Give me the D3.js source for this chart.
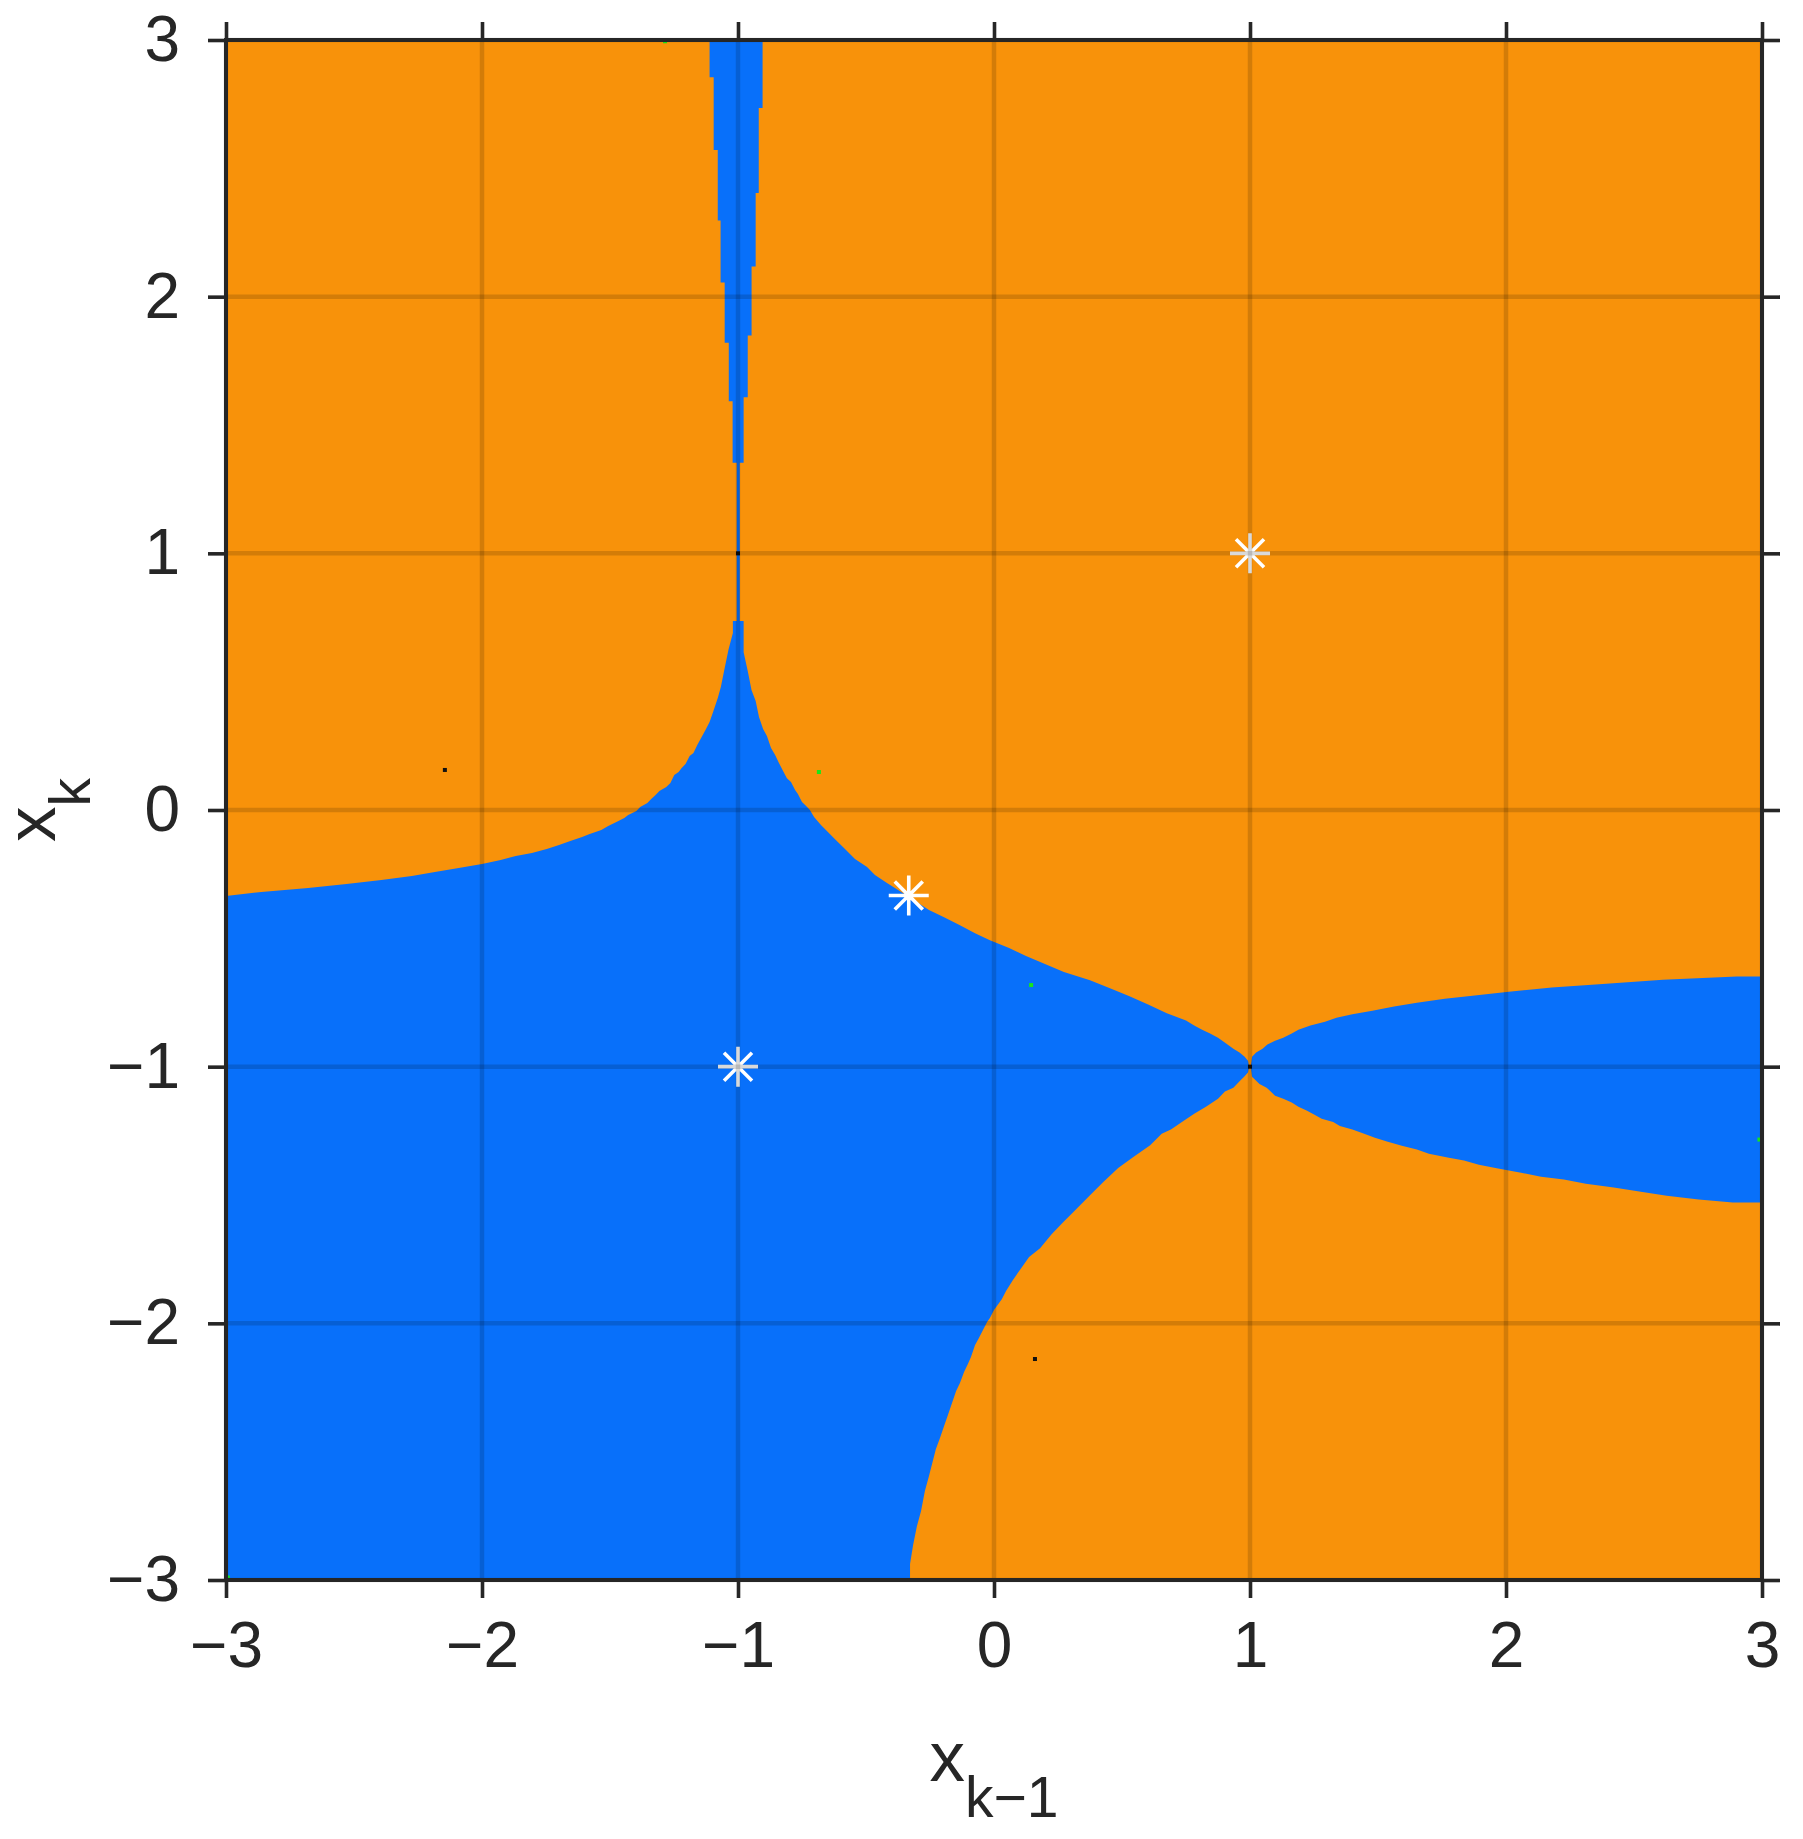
<!DOCTYPE html>
<html>
<head>
<meta charset="utf-8">
<script src="https://cdn.jsdelivr.net/npm/d3@7"></script>
<style>
  body { margin: 0; background: #fff; }
  text { font-family: "Liberation Sans", Arial, Helvetica, sans-serif; fill: #262626; }
</style>
</head>
<body>
<div id="chart"></div>
<script>
// tick values on both axes
const xTicks = [-3, -2, -1, 0, 1, 2, 3];
const yTicks = [-3, -2, -1, 0, 1, 2, 3];

// basin boundaries, [x_{k-1}, x_k]
// upper-left edge of the blue basin, from the left border up to the cusp
const cuspLeft = [[-3.0,-0.335],[-2.862,-0.319],[-2.679,-0.304],[-2.529,-0.288],[-2.393,-0.273],[-2.274,-0.257],
  [-2.184,-0.242],[-2.091,-0.226],[-2.0,-0.21],[-1.927,-0.195],[-1.868,-0.179],[-1.805,-0.168],[-1.747,-0.152],
  [-1.699,-0.136],[-1.655,-0.121],[-1.609,-0.105],[-1.582,-0.094],[-1.534,-0.078],[-1.507,-0.062],[-1.475,-0.047],
  [-1.444,-0.031],[-1.429,-0.019],[-1.397,-0.004],[-1.382,0.012],[-1.354,0.027],[-1.339,0.043],[-1.322,0.058],
  [-1.307,0.074],[-1.28,0.09],[-1.264,0.105],[-1.249,0.136],[-1.232,0.148],[-1.22,0.164],[-1.205,0.179],
  [-1.189,0.21],[-1.174,0.222],[-1.159,0.253],[-1.142,0.284],[-1.127,0.312],[-1.111,0.343],[-1.096,0.386],
  [-1.079,0.436],[-1.067,0.479],[-1.052,0.553],[-1.037,0.625],[-1.02,0.69],[-1.02,0.736]];

// thin spike along x_{k-1} = -1 (left side going up, right side coming down)
const spikeLeft = [[-1.005,0.736],[-1.005,1.353],[-1.021,1.353],[-1.021,1.593],[-1.036,1.593],[-1.036,1.82],
  [-1.052,1.82],[-1.052,2.055],[-1.068,2.055],[-1.068,2.297],[-1.079,2.297],[-1.079,2.571],[-1.095,2.571],
  [-1.095,2.855],[-1.111,2.855],[-1.111,3.0]];
const spikeRight = [[-0.904,3.0],[-0.904,2.735],[-0.919,2.735],[-0.919,2.404],[-0.931,2.404],[-0.931,2.118],
  [-0.947,2.118],[-0.947,1.849],[-0.962,1.849],[-0.962,1.608],[-0.978,1.608],[-0.978,1.353],[-0.993,1.353],
  [-0.993,0.736]];

// right edge of the cusp, down past the middle root to (1,-1)
const cuspRight = [[-0.978,0.736],[-0.978,0.615],[-0.962,0.542],[-0.947,0.467],[-0.931,0.425],[-0.918,0.362],
  [-0.902,0.316],[-0.887,0.288],[-0.871,0.242],[-0.855,0.214],[-0.84,0.183],[-0.824,0.152],[-0.809,0.124],
  [-0.793,0.109],[-0.777,0.078],[-0.766,0.062],[-0.75,0.031],[-0.734,0.016],[-0.719,0.0],[-0.703,-0.027],
  [-0.676,-0.058],[-0.645,-0.09],[-0.618,-0.117],[-0.586,-0.148],[-0.543,-0.191],[-0.496,-0.222],[-0.465,-0.253],
  [-0.418,-0.284],[-0.333,-0.338],[-0.254,-0.39],[-0.195,-0.418],[-0.133,-0.449],[-0.074,-0.48],[-0.016,-0.507],
  [0.059,-0.538],[0.125,-0.569],[0.199,-0.6],[0.273,-0.631],[0.375,-0.663],[0.453,-0.694],[0.527,-0.725],
  [0.602,-0.758],[0.675,-0.792],[0.75,-0.82],[0.782,-0.84],[0.813,-0.856],[0.844,-0.871],[0.875,-0.887],
  [0.9,-0.905],[0.935,-0.93],[0.959,-0.945],[0.979,-0.961],[0.992,-0.977],[0.997,-1.0]];

// lower edge, from (1,-1) down to the bottom border
const lowerEdge = [[0.992,-1.023],[0.977,-1.039],[0.964,-1.052],[0.935,-1.082],[0.902,-1.097],[0.875,-1.125],
  [0.828,-1.156],[0.782,-1.183],[0.737,-1.214],[0.691,-1.245],[0.655,-1.261],[0.61,-1.306],[0.543,-1.353],
  [0.485,-1.395],[0.426,-1.45],[0.375,-1.501],[0.316,-1.56],[0.27,-1.606],[0.225,-1.653],[0.18,-1.707],
  [0.137,-1.742],[0.106,-1.785],[0.074,-1.831],[0.047,-1.874],[0.031,-1.905],[0.0,-1.948],[-0.016,-1.979],
  [-0.027,-1.995],[-0.043,-2.026],[-0.059,-2.057],[-0.074,-2.084],[-0.09,-2.131],[-0.102,-2.158],[-0.117,-2.19],
  [-0.133,-2.232],[-0.148,-2.264],[-0.164,-2.31],[-0.18,-2.357],[-0.195,-2.4],[-0.211,-2.447],[-0.227,-2.49],
  [-0.242,-2.548],[-0.254,-2.595],[-0.27,-2.653],[-0.285,-2.731],[-0.301,-2.79],[-0.316,-2.864],[-0.328,-2.938],
  [-0.328,-3.0],[-3.0,-3.0]];

// wedge to the right of (1,-1)
const wedgeUpper = [[1.003,-1.0],[1.008,-0.961],[1.024,-0.945],[1.049,-0.93],[1.068,-0.914],[1.098,-0.899],
  [1.13,-0.887],[1.163,-0.871],[1.189,-0.856],[1.236,-0.84],[1.293,-0.825],[1.338,-0.809],[1.4,-0.796],
  [1.478,-0.782],[1.563,-0.766],[1.652,-0.751],[1.761,-0.735],[1.878,-0.723],[2.011,-0.708],[2.179,-0.692],
  [2.392,-0.677],[2.613,-0.661],[2.902,-0.649],[3.0,-0.649]];
const wedgeLower = [[3.0,-1.529],[2.886,-1.529],[2.753,-1.518],[2.628,-1.503],[2.527,-1.487],[2.421,-1.471],
  [2.312,-1.456],[2.226,-1.44],[2.137,-1.429],[2.059,-1.413],[1.969,-1.397],[1.894,-1.382],[1.836,-1.366],
  [1.777,-1.355],[1.699,-1.339],[1.652,-1.323],[1.593,-1.308],[1.535,-1.292],[1.488,-1.277],[1.446,-1.261],
  [1.4,-1.245],[1.351,-1.231],[1.325,-1.216],[1.28,-1.203],[1.252,-1.187],[1.221,-1.171],[1.189,-1.156],
  [1.163,-1.14],[1.13,-1.125],[1.098,-1.113],[1.081,-1.097],[1.065,-1.082],[1.037,-1.068],[1.024,-1.055],
  [1.008,-1.039]];

// roots (stars) and the odd stray cells
const roots = [[1, 1], [-0.333, -0.333], [-1, -1]];
const strayX = [-2.145, 0.16, -1.0, 1.0, -0.684, 0.145, 2.99, -1.285, -2.993];
const strayY = [0.156, -2.139, 1.0, -1.0, 0.148, -0.682, -1.284, 2.995, -2.99];
const strayC = ["black", "black", "black", "black", "green", "green", "green", "green", "green"];

const orange = "#f8920a";
const blue = "#0870fa";
const axisColor = "#262626";

const width = 1803, height = 1839;
const x = d3.scaleLinear().domain([-3, 3]).range([226, 1762]);
const y = d3.scaleLinear().domain([-3, 3]).range([1580, 40]);

const svg = d3.select("#chart").append("svg")
    .attr("width", width)
    .attr("height", height);

const line = d3.line().x(d => x(d[0])).y(d => y(d[1]));

// orange basin = whole square, blue drawn on top
svg.append("rect")
    .attr("x", x(-3)).attr("y", y(3))
    .attr("width", x(3) - x(-3)).attr("height", y(-3) - y(3))
    .attr("fill", orange);

const mainBasin = cuspLeft.concat(spikeLeft, spikeRight, cuspRight, lowerEdge);
svg.append("path")
    .attr("d", line(mainBasin) + "Z")
    .attr("fill", blue);

svg.append("path")
    .attr("d", line(wedgeUpper.concat(wedgeLower)) + "Z")
    .attr("fill", blue);

// stray cells
svg.append("g").selectAll("rect")
    .data(d3.range(strayX.length))
    .join("rect")
      .attr("x", i => x(strayX[i]) - 2)
      .attr("y", i => y(strayY[i]) - 2)
      .attr("width", 4)
      .attr("height", 4)
      .attr("fill", i => strayC[i] == "green" ? "#19e619" : "#111");

// root markers (asterisk)
svg.append("g").selectAll("path")
    .data(roots)
    .join("path")
      .attr("transform", d => `translate(${x(d[0])},${y(d[1])})`)
      .attr("d", "M-20,0H20M0,-20V20M-14,-14L14,14M-14,14L14,-14")
      .attr("stroke", "#fff")
      .attr("stroke-width", 3.6)
      .attr("fill", "none");

// grid on top
const grid = svg.append("g").attr("stroke", "#000").attr("stroke-opacity", 0.15).attr("stroke-width", 4.5);
grid.selectAll(".gx").data(xTicks).join("line")
    .attr("x1", d => x(d)).attr("x2", d => x(d))
    .attr("y1", y(3)).attr("y2", y(-3));
grid.selectAll(".gy").data(yTicks).join("line")
    .attr("y1", d => y(d)).attr("y2", d => y(d))
    .attr("x1", x(-3)).attr("x2", x(3));

// axes
function fmt(d) { return d < 0 ? "\u2212" + Math.abs(d) : String(d); }

const gLeft = svg.append("g").attr("transform", `translate(${x(-3)},0)`)
    .call(d3.axisLeft(y).tickValues(yTicks).tickFormat(fmt).tickSize(18).tickSizeOuter(0).tickPadding(28));
const gBottom = svg.append("g").attr("transform", `translate(0,${y(-3)})`)
    .call(d3.axisBottom(x).tickValues(xTicks).tickFormat(fmt).tickSize(18).tickSizeOuter(0).tickPadding(24));
const gTop = svg.append("g").attr("transform", `translate(0,${y(3)})`)
    .call(d3.axisTop(x).tickValues(xTicks).tickFormat("").tickSize(18).tickSizeOuter(0));
const gRight = svg.append("g").attr("transform", `translate(${x(3)},0)`)
    .call(d3.axisRight(y).tickValues(yTicks).tickFormat("").tickSize(18).tickSizeOuter(0));

[gLeft, gBottom, gTop, gRight].forEach(g => {
  g.select(".domain").remove();
  g.selectAll(".tick line").attr("stroke", axisColor).attr("stroke-width", 3.6);
  g.selectAll(".tick text")
      .attr("fill", axisColor)
      .style("font-family", '"Liberation Sans", Arial, Helvetica, sans-serif')
      .style("font-size", "64px");
});

svg.append("rect")
    .attr("x", x(-3)).attr("y", y(3))
    .attr("width", x(3) - x(-3)).attr("height", y(-3) - y(3))
    .attr("fill", "none")
    .attr("stroke", axisColor)
    .attr("stroke-width", 4);

// axis labels
const xl = svg.append("text")
    .attr("x", (x(-3) + x(3)) / 2)
    .attr("y", 1781)
    .attr("text-anchor", "middle")
    .style("font-size", "71px");
xl.append("tspan").text("x");
xl.append("tspan").attr("dy", 36).style("font-size", "57px").text("k\u22121");

const yl = svg.append("text")
    .attr("transform", `translate(55,${(y(-3) + y(3)) / 2}) rotate(-90)`)
    .attr("text-anchor", "middle")
    .style("font-size", "71px");
yl.append("tspan").text("x");
yl.append("tspan").attr("dy", 35).style("font-size", "57px").text("k");
</script>
</body>
</html>
